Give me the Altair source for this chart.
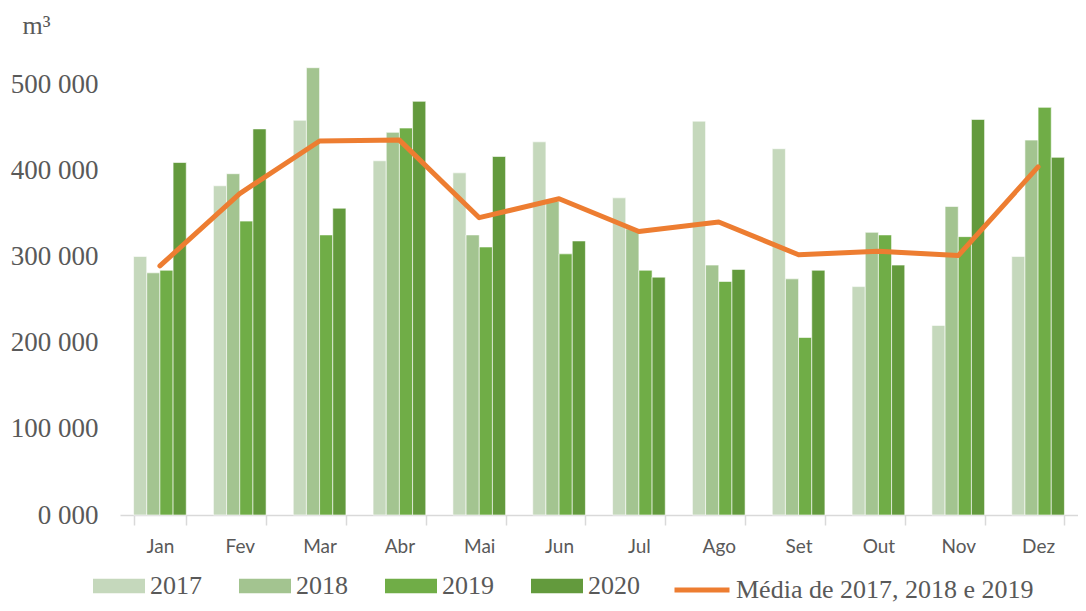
import altair as alt
import pandas as pd

months = ["Jan", "Fev", "Mar", "Abr", "Mai", "Jun", "Jul", "Ago", "Set", "Out", "Nov", "Dez"]
years = ["2017", "2018", "2019", "2020"]
v2017 = [300000, 382000, 458000, 411000, 397000, 433000, 368000, 457000, 425000, 265000, 220000, 300000]
v2018 = [281000, 396000, 519000, 444000, 325000, 364000, 332000, 290000, 274000, 328000, 358000, 435000]
v2019 = [284000, 341000, 325000, 449000, 311000, 303000, 284000, 271000, 206000, 325000, 323000, 473000]
v2020 = [409000, 448000, 356000, 480000, 416000, 318000, 276000, 285000, 284000, 290000, 459000, 415000]
media = [289000, 373000, 434000, 435000, 345000, 367000, 329000, 340000, 302000, 306000, 301000, 404000]
media_label = "Média de 2017, 2018 e 2019"
y_tick_values = [0, 100000, 200000, 300000, 400000, 500000]
y_tick_labels = ["0 000", "100 000", "200 000", "300 000", "400 000", "500 000"]

bar_colors = ["#C5D8BC", "#A3C490", "#70AD47", "#639A3D"]
line_color = "#ED7D31"
grey = "#595959"
serif = "Liberation Serif"

rows = []
for yr, vals in zip(years, [v2017, v2018, v2019, v2020]):
    for m, v in zip(months, vals):
        rows.append({"month": m, "year": yr, "value": v})
bars_df = pd.DataFrame(rows)
line_df = pd.DataFrame({"month": months, "value": media, "series": [media_label] * 12})

label_expr = "[" + ",".join("'" + s + "'" for s in y_tick_labels) + "][round(datum.value/100000)]"

x_enc = alt.X(
    "month:N",
    sort=months,
    scale=alt.Scale(paddingInner=0.34, paddingOuter=0.17),
    axis=alt.Axis(
        title=None,
        labelAngle=0,
        labelFont="Lato",
        labelFontSize=19,
        labelColor=grey,
        labelPadding=12,
        domainColor="#D9D9D9",
        domainWidth=1.5,
        tickColor="#D9D9D9",
        tickWidth=1.5,
        tickSize=10,
        tickBand="extent",
        grid=False,
    ),
)

y_scale = alt.Scale(domain=[0, 550000], nice=False, zero=True)
y_axis = alt.Axis(
    title="m³",
    titleAngle=0,
    titleAlign="left",
    titleBaseline="middle",
    titleX=-98,
    titleY=-16,
    titleFont=serif,
    titleFontSize=26,
    titleFontWeight="normal",
    titleColor=grey,
    values=y_tick_values,
    labelExpr=label_expr,
    labelFont=serif,
    labelFontSize=27,
    labelColor=grey,
    labelPadding=22,
    ticks=False,
    tickSize=0,
    domain=False,
    grid=False,
)

bars = alt.Chart(bars_df).mark_bar(stroke="white", strokeWidth=0.6).encode(
    x=x_enc,
    xOffset=alt.XOffset("year:N", sort=years),
    y=alt.Y("value:Q", scale=y_scale, axis=y_axis),
    color=alt.Color(
        "year:N",
        sort=years,
        scale=alt.Scale(domain=years, range=bar_colors),
        legend=alt.Legend(
            title=None,
            orient="none",
            direction="horizontal",
            legendX=-27,
            legendY=519,
            symbolType="M-1,-0.28H1V0.28H-1Z",
            symbolSize=2704,
            symbolStrokeWidth=0,
            labelFont=serif,
            labelFontSize=26,
            labelColor=grey,
            labelOffset=5,
            labelLimit=0,
            columnPadding=37,
            padding=0,
        ),
    ),
)

line = alt.Chart(line_df).mark_line(strokeWidth=5, strokeCap="round", strokeJoin="round").encode(
    x=alt.X("month:N", sort=months),
    y=alt.Y("value:Q", scale=y_scale),
    stroke=alt.Stroke(
        "series:N",
        scale=alt.Scale(domain=[media_label], range=[line_color]),
        legend=alt.Legend(
            title=None,
            orient="none",
            direction="horizontal",
            legendX=552,
            legendY=519,
            symbolType="stroke",
            symbolSize=3025,
            symbolStrokeWidth=5,
            labelFont=serif,
            labelFontSize=26,
            labelColor=grey,
            labelOffset=4,
            labelLimit=0,
            padding=0,
        ),
    ),
)

chart = (
    alt.layer(bars, line)
    .properties(
        width=958,
        height=474,
        autosize=alt.AutoSizeParams(type="none"),
        padding={"left": 112, "top": 33, "right": 0, "bottom": 88},
    )
    .configure(background="white")
    .configure_view(stroke=None, strokeWidth=0)
)

chart.save("out.html", embed_options={"renderer": "svg", "actions": False})
